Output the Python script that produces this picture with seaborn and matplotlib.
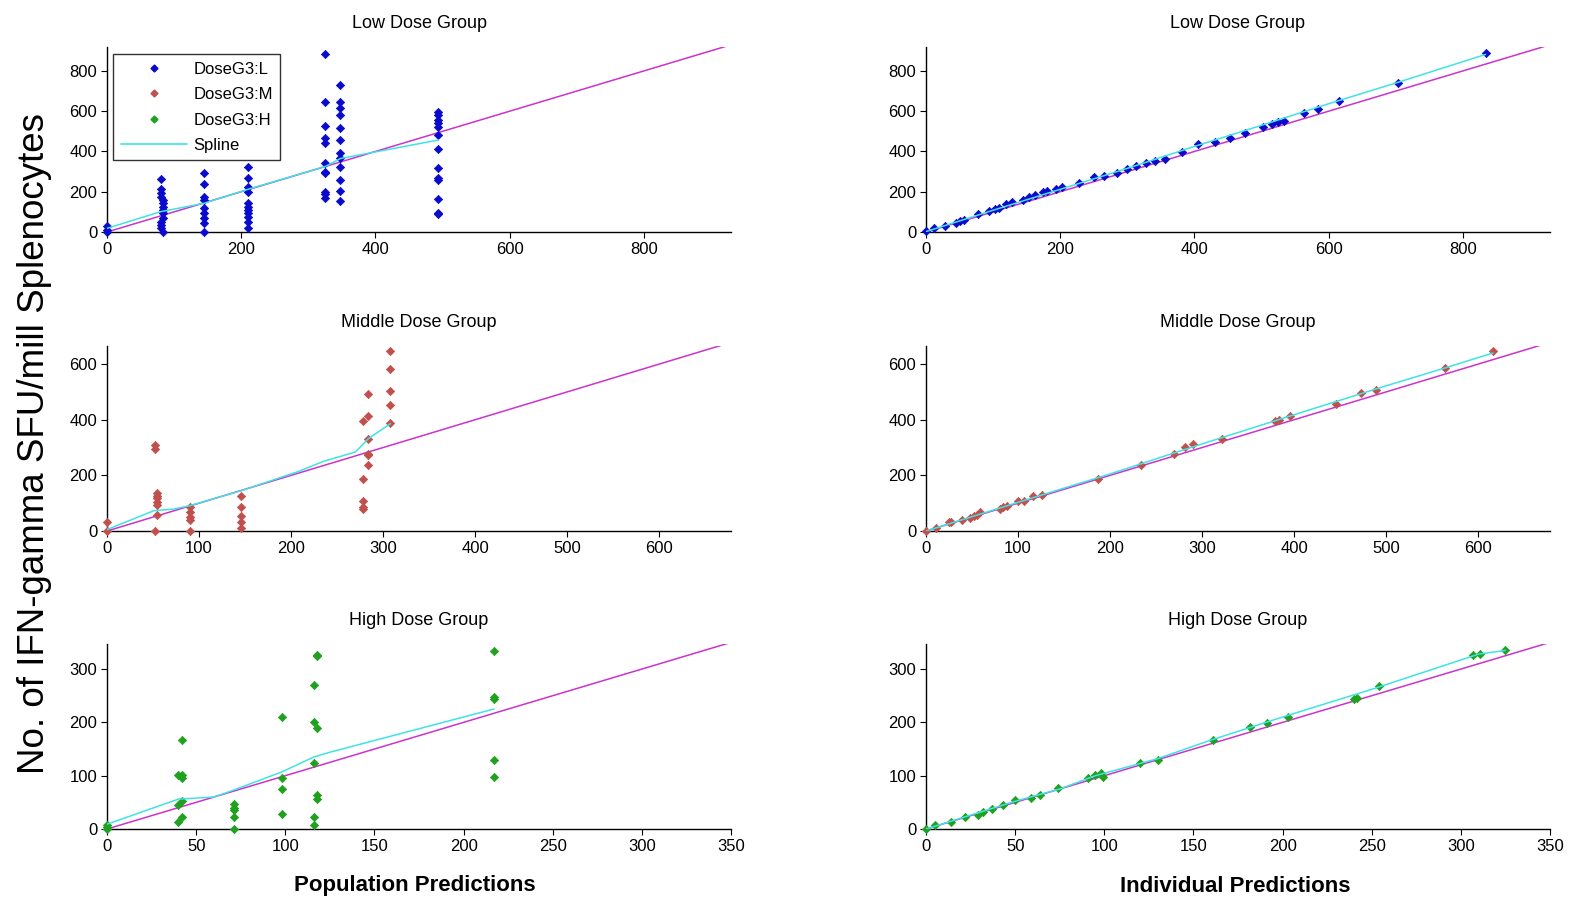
import numpy as np
import pandas as pd
import matplotlib
matplotlib.use("Agg")
import matplotlib.pyplot as plt
import seaborn as sns
from matplotlib.lines import Line2D

sns.set_theme(style="white")
plt.rcParams['font.family'] = ['Liberation Sans', 'DejaVu Sans']
plt.rcParams['text.color'] = 'black'
plt.rcParams['axes.labelcolor'] = 'black'
plt.rcParams['xtick.color'] = 'black'
plt.rcParams['ytick.color'] = 'black'

# ---------------- data ----------------
# Low dose: population predictions (x) vs observed (y)
low_pred = [0, 0, 0,
            80, 80, 80, 80, 83, 83, 83, 83, 83, 80, 80, 83, 83, 80,
            144, 144, 144, 144, 144, 144, 144, 144, 144,
            210, 210, 210, 210, 210, 210, 210, 210, 210, 210, 210,
            325, 325, 325, 325, 325, 325, 325, 325, 325, 325, 325,
            348, 348, 348, 348, 348, 348, 348, 348, 348, 348, 348, 348,
            494, 494, 494, 494, 494, 494, 494, 494, 494, 494, 494, 494, 494]
low_obs = [0, 10, 28,
           262, 212, 192, 175, 159, 142, 126, 109, 93, 51, 35, 2, 70, 20,
           291, 238, 175, 159, 118, 93, 68, 43, 2,
           325, 267, 225, 200, 142, 126, 109, 93, 76, 51, 22,
           884, 644, 526, 465, 440, 341, 300, 291, 200, 189, 167,
           730, 644, 614, 581, 515, 457, 391, 366, 325, 258, 204, 154,
           598, 581, 556, 540, 523, 482, 411, 316, 267, 258, 162, 93, 89]
low_spl_x = [0, 80, 144, 210, 325, 348, 494]
low_spl_y = [18, 101, 142, 212, 325, 365, 457]

# Low dose: individual predictions vs observed
low_ipred = [0, 12, 28, 44, 50, 56, 78, 94, 103, 109, 119, 128, 144, 153, 163, 175, 181, 194, 203,
             228, 250, 266, 284, 300, 313, 328, 341, 356, 381, 406, 431, 453, 475, 503, 516, 525,
             534, 563, 584, 616, 703, 834]
low_iobs = [5, 18, 30, 46, 54, 58, 87, 104, 112, 120, 137, 150, 161, 173, 183, 199, 202, 216, 222,
            244, 272, 276, 293, 313, 329, 342, 351, 364, 397, 436, 449, 469, 491, 523, 535, 545,
            551, 593, 611, 650, 742, 890]
low_ispl_x = [0, 100, 200, 300, 400, 500, 600, 700, 834]
low_ispl_y = [2, 108, 212, 316, 425, 530, 637, 740, 882]

# Middle dose
mid_pred = [0, 0,
            52, 52, 54, 54, 54, 54, 54, 54, 52,
            90, 90, 90, 90, 90,
            146, 146, 146, 146, 146,
            278, 278, 278, 278, 278,
            284, 284, 284, 284, 284, 284,
            308, 308, 308, 308, 308]
mid_obs = [31, 0,
           310, 296, 137, 127, 118, 106, 94, 58, 0,
           85, 70, 49, 41, 0,
           125, 85, 53, 31, 10,
           394, 188, 107, 85, 79,
           494, 413, 332, 278, 274, 238,
           647, 584, 504, 454, 389]
mid_spl_x = [0, 51, 73, 90, 146, 208, 235, 270, 284, 308]
mid_spl_y = [5, 73, 79, 91, 145, 214, 250, 284, 332, 386]

mid_ipred = [0, 11, 25, 27, 39, 48, 52, 55, 59, 80, 84, 88, 100, 107, 116, 126, 187, 234, 269,
             281, 290, 322, 379, 384, 396, 445, 473, 489, 564, 616]
mid_iobs = [0, 10, 31, 34, 40, 46, 55, 59, 67, 79, 85, 89, 107, 107, 127, 130, 188, 239, 278,
            302, 311, 332, 394, 398, 412, 458, 496, 506, 587, 647]
mid_ispl_x = [0, 100, 200, 270, 300, 400, 500, 564, 616]
mid_ispl_y = [0, 103, 205, 281, 313, 418, 522, 586, 640]

# High dose
high_pred = [0, 0, 0,
             40, 40, 40,
             42, 42, 42, 42, 42,
             71, 71, 71, 71, 71,
             98, 98, 98, 98,
             116, 116, 116, 116, 116,
             118, 118, 118, 118, 118,
             217, 217, 217, 217, 217]
high_obs = [7, 0, 4,
            101, 45, 14,
            167, 101, 95, 53, 23,
            46, 40, 35, 23, 0,
            211, 95, 75, 28,
            270, 200, 124, 23, 7,
            327, 325, 190, 63, 57,
            334, 247, 244, 129, 98]
high_spl_x = [0, 40, 60, 71, 98, 116, 125, 217]
high_spl_y = [9, 56, 60, 73, 107, 135, 144, 225]

high_ipred = [0, 5, 14, 22, 29, 32, 37, 43, 50, 59, 64, 74, 91, 95, 98, 99, 120, 130, 161, 182,
              191, 203, 240, 242, 254, 307, 311, 325]
high_iobs = [0, 7, 14, 23, 26, 32, 37, 45, 54, 59, 63, 76, 96, 101, 105, 98, 124, 129, 167, 191,
             199, 211, 244, 246, 269, 326, 329, 335]
high_ispl_x = [0, 50, 75, 95, 130, 160, 200, 250, 310, 325]
high_ispl_y = [0, 52, 75, 100, 132, 167, 210, 262, 328, 335]

titles = ["Low Dose Group", "Middle Dose Group", "High Dose Group"]
limits = [(930, 919), (678, 665), (350, 347)]
xticks = [[0, 200, 400, 600, 800], [0, 100, 200, 300, 400, 500, 600],
          [0, 50, 100, 150, 200, 250, 300, 350]]
yticks = [[0, 200, 400, 600, 800], [0, 200, 400, 600], [0, 100, 200, 300]]
colors = ["#0A0ACC", "#C0504D", "#1FA01F"]
legend_labels = ["DoseG3:L", "DoseG3:M", "DoseG3:H"]
spline_color = "#3FE3E3"
identity_color = "#CC33CC"

pop = [(low_pred, low_obs, low_spl_x, low_spl_y),
       (mid_pred, mid_obs, mid_spl_x, mid_spl_y),
       (high_pred, high_obs, high_spl_x, high_spl_y)]
ind = [(low_ipred, low_iobs, low_ispl_x, low_ispl_y),
       (mid_ipred, mid_iobs, mid_ispl_x, mid_ispl_y),
       (high_ipred, high_iobs, high_ispl_x, high_ispl_y)]

# ---------------- figure ----------------
W, H = 1569, 902
fig = plt.figure(figsize=(W / 100, H / 100), dpi=100)

col_x = [107, 926]
ax_w = 624
row_top = [47, 346, 644]
ax_h = 185

for r in range(3):
    for c, data in enumerate([pop, ind]):
        x, y, sx, sy = data[r]
        ax = fig.add_axes([col_x[c] / W, 1 - (row_top[r] + ax_h) / H, ax_w / W, ax_h / H])
        xl, yl = limits[r]
        lim = max(xl, yl)
        idf = pd.DataFrame({"x": [0, lim], "y": [0, lim]})
        sns.lineplot(data=idf, x="x", y="y", ax=ax, color=identity_color, lw=1.1,
                     sort=False, estimator=None, zorder=2)
        df = pd.DataFrame({"x": x, "y": y})
        sns.scatterplot(data=df, x="x", y="y", ax=ax, marker="D", s=18, color=colors[r],
                        edgecolor=colors[r], linewidth=0.5, zorder=3, clip_on=False)
        sdf = pd.DataFrame({"x": sx, "y": sy})
        sns.lineplot(data=sdf, x="x", y="y", ax=ax, color=spline_color, lw=1.1,
                     sort=False, estimator=None, zorder=4)
        ax.set_xlim(0, xl)
        ax.set_ylim(0, yl)
        ax.set_xticks(xticks[r])
        ax.set_yticks(yticks[r])
        ax.set_xlabel("")
        ax.set_ylabel("")
        ax.set_title(titles[r], fontsize=13, pad=14, color="black")
        for s in ["top", "right"]:
            ax.spines[s].set_visible(False)
        for s in ["left", "bottom"]:
            ax.spines[s].set_color("black")
            ax.spines[s].set_linewidth(1.0)
        ax.tick_params(axis="both", which="both", direction="out", length=4, width=0.8,
                       color="black", labelcolor="black", labelsize=12, left=True,
                       bottom=True, pad=3)
        ax.set_facecolor("white")
        ax.margins(0)

        if r == 0 and c == 0:
            handles = [Line2D([0], [0], marker="D", color="none", markerfacecolor=colors[i],
                              markeredgecolor=colors[i], markersize=3.5) for i in range(3)]
            handles.append(Line2D([0], [0], color=spline_color, lw=1.2))
            leg = ax.legend(handles, legend_labels + ["Spline"], loc="upper left",
                            bbox_to_anchor=(0.010, 0.96), fontsize=12, frameon=True,
                            fancybox=False, edgecolor="black", handlelength=4.0,
                            labelspacing=0.62, borderpad=0.45, handletextpad=0.35,
                            borderaxespad=0.0)
            leg.get_frame().set_linewidth(1.0)
            for t in leg.get_texts():
                t.set_color("black")

fig.text(35 / W, 1 - 443 / H, "No. of IFN-gamma SFU/mill Splenocytes", rotation=90,
         ha="center", va="center", fontsize=26.5)
fig.text(415 / W, 1 - 886 / H, "Population Predictions", ha="center", va="center",
         fontsize=16, fontweight="bold")
fig.text(1235 / W, 1 - 886 / H, "Individual Predictions", ha="center", va="center",
         fontsize=16, fontweight="bold")

fig.savefig("out.png", dpi=100, facecolor="white")
